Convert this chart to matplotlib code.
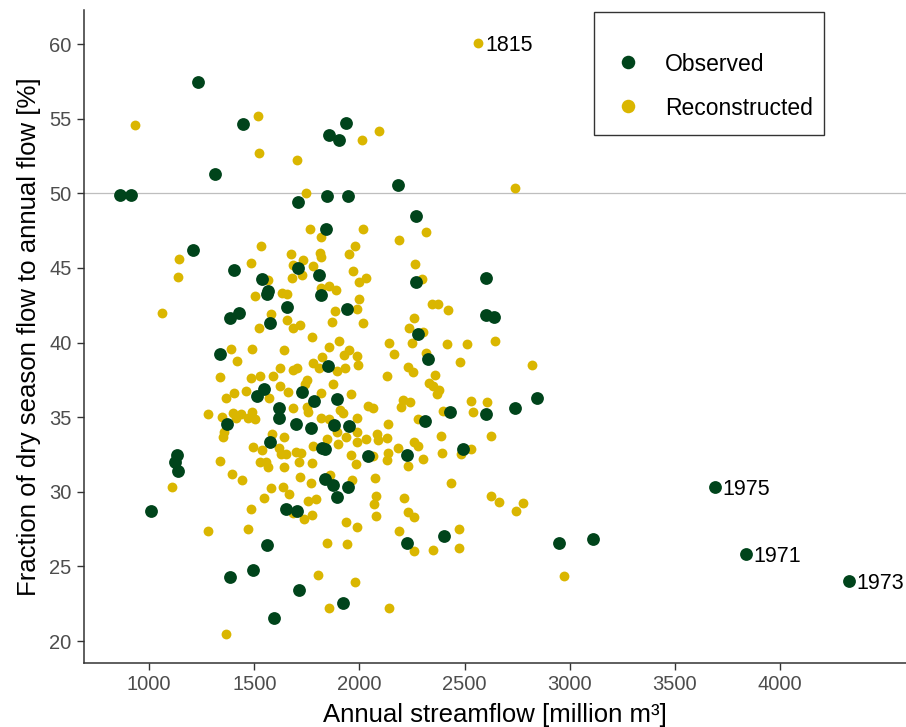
import matplotlib.pyplot as plt
from matplotlib.patches import Rectangle

# observed years (dark green)
obs_flow = [862, 914, 1233, 1447, 1856, 1903, 1936, 1314, 1710, 1846,
            1946, 1841, 2183, 2269, 1209, 1404, 1537, 1566, 1561, 1708,
            1808, 1818, 1656, 1941, 1385, 1428, 1575, 1337, 1851, 1547,
            1513, 1727, 1784, 1894, 1618, 1618, 1371, 1699, 1770, 1879,
            1951, 1575, 1822, 1837, 1837, 1875, 1946, 1894, 1651, 1703,
            1561, 1010, 1133, 1124, 1138, 1385, 1494, 1713, 1594, 1922,
            2269, 2602, 2602, 2640, 2279, 2326, 2844, 2740, 2431, 2602,
            2312, 2492, 2226, 2041, 2402, 2226, 2949, 3110, 3690, 3838,
            4327]
obs_frac = [49.9, 49.9, 57.45, 54.64, 53.9, 53.57, 54.71, 51.29, 49.41, 49.82,
            49.82, 47.6, 50.55, 48.48, 46.2, 44.86, 44.25, 43.45, 43.25, 45.0,
            44.52, 43.18, 42.38, 42.25, 41.64, 41.98, 41.31, 39.23, 38.43, 36.88,
            36.42, 36.69, 36.08, 36.21, 35.61, 34.94, 34.54, 34.54, 34.27, 34.47,
            34.41, 33.33, 32.93, 32.86, 30.85, 30.45, 30.32, 29.65, 28.84, 28.71,
            26.43, 28.71, 32.46, 31.99, 31.39, 24.29, 24.76, 23.42, 21.54, 22.55,
            44.05, 44.32, 41.84, 41.71, 40.57, 38.89, 36.28, 35.61, 35.34, 35.21,
            34.74, 32.86, 32.46, 32.4, 27.04, 26.57, 26.57, 26.83, 30.32, 25.83,
            24.02]

# reconstructed years (gold)
rec_flow = [933, 1518, 1523, 1703, 1746, 1765, 1817, 2012, 2093, 2017,
            2564, 2740, 2317, 2188, 1143, 1138, 1062, 1532, 1485, 1566,
            1504, 1580, 1523, 1675, 1732, 1684, 1779, 1813, 1817, 1680,
            1727, 1632, 1656, 1656, 1684, 1718, 1856, 1889, 1951, 1979,
            1970, 1998, 2031, 1998, 1989, 1884, 1870, 2017, 1775, 1903,
            1856, 1951, 1927, 1989, 1994, 1390, 1490, 1642, 1418, 1337,
            1485, 1528, 1589, 1623, 1684, 1703, 1779, 1808, 1822, 1894,
            1932, 1751, 1742, 1875, 1623, 1660, 1461, 1404, 1366, 1817,
            1960, 1280, 1347, 1399, 1437, 1471, 1490, 1504, 1684, 1751,
            1756, 1817, 1856, 1908, 1922, 1989, 2041, 2065, 2084, 1585,
            1642, 1894, 1989, 1352, 1846, 1818, 2264, 2298, 2345, 2374,
            2421, 2260, 2236, 2302, 2141, 2250, 2416, 2511, 2645, 2164,
            2317, 2478, 2231, 2255, 2131, 2359, 2331, 2350, 2378, 2369,
            2820, 2207, 2241, 2198, 2531, 2607, 2397, 2540, 2279, 2136,
            2088, 2131, 2388, 2626, 2260, 2279, 2031, 1989, 2183, 2136,
            2131, 1984, 1960, 2065, 2302, 2393, 2483, 2530, 2231, 2074,
            2436, 1965, 2079, 2070, 2079, 2212, 2231, 2260, 2626, 2664,
            1989, 2188, 2473, 2473, 2260, 2350, 2778, 2745, 2973, 2141,
            1356, 1494, 1537, 1618, 1627, 1651, 1699, 1722, 1337, 1528,
            1556, 1566, 1642, 1713, 1775, 1779, 1898, 1936, 1394, 1442,
            1580, 1637, 1665, 1718, 1770, 1860, 1547, 1485, 1756, 1794,
            1737, 1775, 1684, 1936, 1471, 1280, 1109, 1846, 1941, 1803,
            1979, 1856, 1366, 1570, 1413]
rec_frac = [54.6, 55.2, 52.7, 52.2, 50.0, 47.6, 47.1, 53.6, 54.2, 47.6,
            60.1, 50.35, 47.4, 46.9, 45.6, 44.4, 42.0, 46.5, 45.3, 44.2,
            43.1, 41.9, 41.0, 45.9, 45.5, 45.2, 45.1, 46.0, 45.7, 44.3,
            44.5, 43.3, 43.25, 41.5, 41.0, 41.2, 43.8, 43.5, 45.9, 46.5,
            44.8, 44.05, 44.3, 42.9, 42.25, 42.1, 41.4, 41.3, 40.4, 40.1,
            39.7, 39.5, 39.15, 39.1, 38.5, 39.55, 39.55, 39.5, 38.75, 37.7,
            37.6, 37.75, 37.75, 38.3, 38.15, 38.3, 38.6, 38.3, 39.0, 38.1,
            38.3, 37.5, 37.2, 37.2, 37.1, 36.7, 36.75, 36.6, 36.3, 36.6,
            36.55, 35.2, 35.0, 35.3, 35.2, 34.95, 35.35, 34.9, 35.6, 35.7,
            35.35, 34.95, 34.9, 35.5, 35.3, 34.95, 35.75, 35.6, 33.9, 33.9,
            33.7, 34.0, 34.0, 33.7, 33.55, 43.65, 45.25, 44.25, 42.6, 42.55,
            42.2, 41.65, 40.95, 40.7, 40.0, 39.95, 39.9, 39.9, 40.1, 39.25,
            39.3, 38.7, 38.35, 38.0, 37.75, 37.8, 37.3, 37.1, 36.8, 36.55,
            38.5, 36.15, 36.0, 35.7, 36.1, 36.0, 35.4, 35.35, 34.85, 34.55,
            33.5, 33.6, 33.75, 33.75, 33.35, 33.1, 33.55, 33.35, 32.95, 32.6,
            32.15, 31.85, 32.45, 32.4, 32.2, 32.6, 32.55, 32.85, 31.75, 30.9,
            30.6, 30.8, 29.7, 29.2, 28.4, 29.6, 28.65, 28.3, 29.7, 29.3,
            27.65, 27.35, 27.5, 26.25, 26.05, 26.1, 29.25, 28.7, 24.35, 22.2,
            34.0, 33.0, 32.8, 32.95, 32.55, 32.55, 32.65, 32.6, 32.05, 32.0,
            32.0, 31.65, 31.65, 32.0, 31.95, 33.05, 33.2, 33.65, 31.2, 30.8,
            30.25, 30.3, 29.85, 31.0, 30.6, 31.1, 29.6, 28.85, 29.4, 29.5,
            28.15, 28.45, 28.6, 27.95, 27.5, 27.35, 30.3, 26.55, 26.5, 24.4,
            23.95, 22.2, 20.45, 36.3, 34.95]

label_years = ['1815', '1975', '1971', '1973']
label_flow = [2564, 3690, 3838, 4327]
label_frac = [60.1, 30.32, 25.83, 24.02]

dark = '#00441b'
gold = '#dab600'

plt.rcParams['font.family'] = ['Liberation Sans', 'DejaVu Sans']

fig = plt.figure(figsize=(9.06, 7.27), dpi=100)
ax = fig.add_axes([84 / 906, 1 - 663 / 727, 822 / 906, 653 / 727])

ax.axhline(50, color='#bebebe', lw=0.9, zorder=1)
ax.scatter(rec_flow, rec_frac, s=50, color=gold, lw=0, zorder=2)
ax.scatter(obs_flow, obs_frac, s=85, color=dark, lw=0, zorder=3)

for yr, x, y in zip(label_years, label_flow, label_frac):
    ax.annotate(yr, (x, y), xytext=(5.5, 0), textcoords='offset points',
                va='center_baseline', ha='left', fontsize=15.5)

ax.set_xlim(690, 4600)
ax.set_ylim(18.53, 62.28)
ax.set_xticks(range(1000, 4001, 500))
ax.set_yticks(range(20, 61, 5))

for side in ['top', 'right']:
    ax.spines[side].set_visible(False)
for side in ['left', 'bottom']:
    ax.spines[side].set_color('#333333')
    ax.spines[side].set_linewidth(1.1)
ax.tick_params(direction='out', length=5, width=1, color='#333333',
               labelcolor='#4d4d4d', labelsize=14.5, pad=4)

ax.set_xlabel('Annual streamflow [million m³]', fontsize=18.5, labelpad=6)
ax.set_ylabel('Fraction of dry season flow to annual flow [%]', fontsize=18.5, labelpad=6)

# legend box drawn by hand to match the boxed ggplot-style legend
ax.add_patch(Rectangle((0.6204, 0.8086), 0.2798, 0.1883, transform=ax.transAxes,
                       fill=False, ec='#333333', lw=1, clip_on=False, zorder=5))
ax.scatter([0.6618], [0.9204], s=95, color=dark, lw=0, transform=ax.transAxes,
           clip_on=False, zorder=6)
ax.scatter([0.6618], [0.853], s=95, color=gold, lw=0, transform=ax.transAxes,
           clip_on=False, zorder=6)
ax.text(0.7068, 0.9204, 'Observed', transform=ax.transAxes,
        va='center_baseline', fontsize=16.5)
ax.text(0.7068, 0.853, 'Reconstructed', transform=ax.transAxes,
        va='center_baseline', fontsize=16.5)

fig.savefig('out.png', dpi=100)
